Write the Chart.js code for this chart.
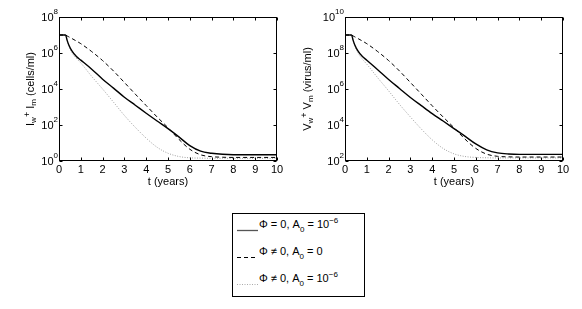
<!DOCTYPE html>
<html><head><meta charset="utf-8">
<script src="https://cdn.jsdelivr.net/npm/chart.js@4/dist/chart.umd.min.js"></script>
<style>
html,body{margin:0;padding:0;background:#fff}
body{width:582px;height:309px;position:relative;overflow:hidden;font-family:"Liberation Sans",Arial,sans-serif;color:#000}
#c1{position:absolute;left:0;top:0}
#c2{position:absolute;left:290px;top:0}
#legend{position:absolute;left:232px;top:213px;width:133px;height:84px;border:1px solid #000;box-sizing:border-box}
.row{position:absolute;left:26px;font-size:11px;line-height:11px;white-space:nowrap}
.row sub{font-size:8px;vertical-align:-4px;line-height:0}
.row sup{font-size:8px;vertical-align:5px;line-height:0}
.smp{position:absolute;left:4px;width:21px;height:3px}
</style></head>
<body>
<canvas id="c1" width="290" height="200"></canvas>
<canvas id="c2" width="292" height="200"></canvas>
<div id="legend">
  <svg class="smp" style="top:15px" width="21" height="3"><line x1="0" y1="1.5" x2="21" y2="1.5" stroke="#555" stroke-width="1.3"/></svg>
  <div class="row" style="top:5px">&Phi; = 0, A<sub>0</sub> = 10<sup>&minus;6</sup></div>
  <svg class="smp" style="top:42px" width="21" height="3"><line x1="0" y1="1.5" x2="21" y2="1.5" stroke="#000" stroke-width="1" stroke-dasharray="4,3"/></svg>
  <div class="row" style="top:32px">&Phi; &ne; 0, A<sub>0</sub> = 0</div>
  <svg class="smp" style="top:69px" width="21" height="3"><line x1="0" y1="1.5" x2="21" y2="1.5" stroke="#aaa" stroke-width="1" stroke-dasharray="1,1.5"/></svg>
  <div class="row" style="top:59px">&Phi; &ne; 0, A<sub>0</sub> = 10<sup>&minus;6</sup></div>
</div>
<script>
// ---- data ----
const tYears = [0,0.3,0.37,0.45,0.6,0.8,1,1.5,2,2.5,3,3.5,4,4.5,5,5.5,6,6.5,7,7.5,8,9,10];
const xTicks = [0,1,2,3,4,5,6,7,8,9,10];

// Left panel: I_w + I_m (cells/ml)
const cellsPhi0A6 = [1e7,1e7,5.2e6,2.8e6,1.26e6,6.3e5,4.0e5,1.26e5,3.5e4,1.12e4,3.5e3,1.26e3,450,166,63,22,7.1,3.5,2.7,2.35,2.24,2.24,2.24];
const cellsPhiA0  = [1e7,1e7,8.9e6,7.9e6,6.3e6,4.6e6,3.3e6,1.2e6,3.8e5,1e5,2.3e4,5.2e3,1.2e3,280,71,16,4.5,2.2,1.74,1.62,1.58,1.58,1.58];
const cellsPhiA6  = [1e7,1e7,5.0e6,2.5e6,1e6,5e5,2.8e5,5e4,1e4,1.86e3,340,74,18.6,5.8,2.7,1.78,1.5,1.45,1.41,1.41,1.41,1.41,1.41];
const cellsYTicks = [1e0,1e2,1e4,1e6,1e8];
const cellsYExp   = ['0','2','4','6','8'];

// Right panel: V_w + V_m (virus/ml)
const virusPhi0A6 = [1e9,1e9,5.2e8,2.8e8,1.26e8,6.3e7,4e7,1.17e7,3.4e6,1.07e6,3.4e5,1.2e5,4.3e4,1.66e4,6.3e3,2.4e3,890,417,282,245,234,234,234];
const virusPhiA0  = [1e9,1e9,8.9e8,7.9e8,6.3e8,4.6e8,3.3e8,1.2e8,3.8e7,1e7,2.3e6,5.2e5,1.17e5,2.8e4,7.1e3,1.66e3,500,240,182,170,166,166,166];
const virusPhiA6  = [1e9,1e9,5e8,2.5e8,1e8,4.5e7,2.4e7,4.2e6,7.9e5,1.4e5,2.8e4,6e3,1.5e3,500,250,178,158,151,148,148,148,148,148];
const virusYTicks = [1e2,1e4,1e6,1e8,1e10];
const virusYExp   = ['2','4','6','8','10'];

const FONT = '"Liberation Sans", Arial, sans-serif';

function pts(ys){ return tYears.map((t,i)=>({x:t,y:ys[i]})); }

function drawRich(ctx, segs, x, y, align){
  let w = 0;
  segs.forEach(s=>{ ctx.font = s.size+'px '+FONT; s.w = ctx.measureText(s.text).width; w += s.w; });
  let cx = align==='right' ? x - w : align==='center' ? x - w/2 : x;
  ctx.textAlign = 'left'; ctx.textBaseline = 'middle';
  segs.forEach(s=>{ ctx.font = s.size+'px '+FONT; ctx.fillText(s.text, cx, y + (s.dy||0)); cx += s.w; });
}

function framePlugin(yTicks, yExp, titleSegs, titleX){
  return {
    id:'frame',
    afterDraw(chart){
      const ctx = chart.ctx, a = chart.chartArea, xs = chart.scales.x, ys = chart.scales.y;
      ctx.save();
      ctx.strokeStyle = '#000'; ctx.lineWidth = 1;
      const L = Math.round(a.left)+0.5, R = Math.round(a.right)-0.5, T = Math.round(a.top)+0.5, B = Math.round(a.bottom)-0.5;
      ctx.strokeRect(L, T, R-L, B-T);
      ctx.beginPath();
      xTicks.forEach(v=>{
        const p = Math.round(xs.getPixelForValue(v))+0.5;
        ctx.moveTo(p,B); ctx.lineTo(p,B-3);
        ctx.moveTo(p,T); ctx.lineTo(p,T+3);
      });
      yTicks.forEach(v=>{
        const p = Math.round(ys.getPixelForValue(v))+0.5;
        ctx.moveTo(L,p); ctx.lineTo(L+3,p);
        ctx.moveTo(R,p); ctx.lineTo(R-3,p);
      });
      ctx.stroke();
      ctx.fillStyle = '#000';
      ctx.font = '11px '+FONT; ctx.textAlign='center'; ctx.textBaseline='middle';
      xTicks.forEach(v=>{ ctx.fillText(String(v), xs.getPixelForValue(v), a.bottom+9); });
      yTicks.forEach((v,i)=>{
        drawRich(ctx, [{text:'10',size:11,dy:1},{text:yExp[i],size:8,dy:-5}], a.left-1, ys.getPixelForValue(v), 'right');
      });
      ctx.font = '11px '+FONT; ctx.textAlign='center'; ctx.textBaseline='middle';
      ctx.fillText('t (years)', (a.left+a.right)/2, a.bottom+21);
      ctx.translate(titleX, (a.top+a.bottom)/2);
      ctx.rotate(-Math.PI/2);
      drawRich(ctx, titleSegs, 0, 0, 'center');
      ctx.restore();
    }
  };
}

function makeChart(id, s1, s2, s3, ymin, ymax, pad, yTicks, yExp, titleSegs, titleX){
  return new Chart(document.getElementById(id), {
    type:'line',
    data:{datasets:[
      {data:pts(s1), borderColor:'#000', borderWidth:1.4},
      {data:pts(s2), borderColor:'#000', borderWidth:1, borderDash:[4,3]},
      {data:pts(s3), borderColor:'#a0a0a0', borderWidth:1, borderDash:[1,1.5]}
    ]},
    options:{
      responsive:false, animation:false, events:[],
      layout:{padding:pad},
      elements:{point:{radius:0}, line:{tension:0.4, cubicInterpolationMode:'monotone', fill:false}},
      plugins:{legend:{display:false}, tooltip:{enabled:false}},
      scales:{
        x:{type:'linear', min:0, max:10, display:false},
        y:{type:'logarithmic', min:ymin, max:ymax, display:false}
      }
    },
    plugins:[framePlugin(yTicks, yExp, titleSegs, titleX)]
  });
}

makeChart('c1', cellsPhi0A6, cellsPhiA0, cellsPhiA6, 1, 1e8,
  {left:59, right:13, top:17, bottom:39}, cellsYTicks, cellsYExp,
  [{text:'I',size:11},{text:'w',size:8,dy:3},{text:'+',size:9,dy:-3},{text:' I',size:11},{text:'m',size:8,dy:3},{text:' (cells/ml)',size:11}], 31);

makeChart('c2', virusPhi0A6, virusPhiA0, virusPhiA6, 1e2, 1e10,
  {left:55, right:19, top:17, bottom:39}, virusYTicks, virusYExp,
  [{text:'V',size:11},{text:'w',size:8,dy:3},{text:'+',size:9,dy:-3},{text:' V',size:11},{text:'m',size:8,dy:3},{text:' (virus/ml)',size:11}], 18);
</script>
</body></html>
